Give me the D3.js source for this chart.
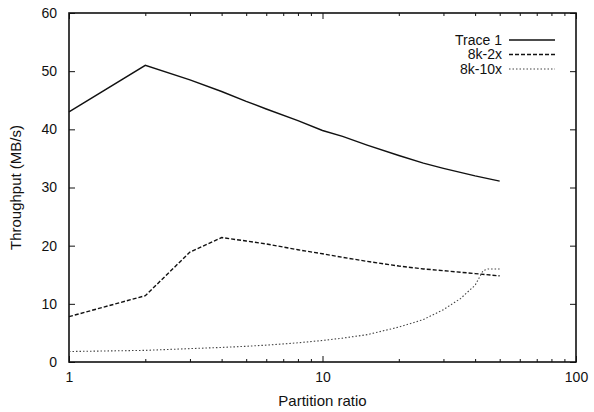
<!DOCTYPE html>
<html>
<head>
<meta charset="utf-8">
<script src="https://cdn.jsdelivr.net/npm/d3@7"></script>
<style>
  body { margin: 0; background: #fff; }
  svg text { font-family: "Liberation Sans", Arial, sans-serif; fill: #111; }
</style>
</head>
<body>
<div id="chart"></div>
<script>
// partition ratios where each trace was measured
var ratios = [1, 2, 3, 4, 5, 6, 8, 10, 12, 15, 20, 25, 30, 40, 50];
var trace1 = [43, 51, 48.5, 46.5, 44.8, 43.5, 41.5, 39.8, 38.8, 37.3, 35.5, 34.2, 33.3, 32, 31.1];
var k2x = [7.8, 11.4, 18.9, 21.4, 20.8, 20.3, 19.3, 18.6, 18, 17.3, 16.5, 16, 15.7, 15.2, 14.8];

var ratios10 = [1, 2, 3, 4, 5, 6, 8, 10, 12, 15, 20, 25, 30, 35, 40, 43, 45, 50];
var k10x = [1.8, 2.0, 2.3, 2.5, 2.7, 2.9, 3.3, 3.7, 4.1, 4.7, 6.0, 7.3, 9.0, 10.9, 13.2, 15.7, 16, 16];

var seriesNames = ["Trace 1", "8k-2x", "8k-10x"];
var yTicks = [0, 10, 20, 30, 40, 50, 60];
var xTicks = [1, 10, 100];

var W = 594, H = 412;
var margin = {top: 13, right: 18, bottom: 50, left: 69},
    width = W - margin.left - margin.right,
    height = H - margin.top - margin.bottom;

var svg = d3.select("#chart")
    .append("svg")
        .attr("width", W)
        .attr("height", H)
    .append("g")
        .attr("transform", "translate(" + margin.left + "," + margin.top + ")");

var x = d3.scaleLog().domain([1, 100]).range([0, width]);
var y = d3.scaleLinear().domain([0, 60]).range([height, 0]);

// minor log ticks
var minor = [];
for (var d = 1; d < 100; d *= 10) {
    for (var k = 2; k < 10; k++) minor.push(d * k);
}

function styleAxis(g) {
    g.select(".domain").remove();
    g.selectAll("line").attr("stroke", "#111").attr("stroke-width", 1);
    g.selectAll("text").attr("font-size", "14px").attr("fill", "#111");
}

svg.append("g")
    .attr("transform", "translate(0," + height + ")")
    .call(d3.axisBottom(x).tickValues(xTicks).tickFormat(d3.format("d")).tickSize(-6).tickPadding(10))
    .call(styleAxis);
svg.append("g")
    .attr("transform", "translate(0," + height + ")")
    .call(d3.axisBottom(x).tickValues(minor).tickFormat("").tickSize(-3))
    .call(styleAxis);
svg.append("g")
    .call(d3.axisTop(x).tickValues(xTicks).tickFormat("").tickSize(-6))
    .call(styleAxis);
svg.append("g")
    .call(d3.axisTop(x).tickValues(minor).tickFormat("").tickSize(-3))
    .call(styleAxis);
svg.append("g")
    .call(d3.axisLeft(y).tickValues(yTicks).tickSize(-6).tickPadding(12))
    .call(styleAxis);
svg.append("g")
    .attr("transform", "translate(" + width + ",0)")
    .call(d3.axisRight(y).tickValues(yTicks).tickFormat("").tickSize(-6))
    .call(styleAxis);

svg.append("rect")
    .attr("width", width)
    .attr("height", height)
    .attr("fill", "none")
    .attr("stroke", "#111")
    .attr("stroke-width", 1.6);

var line = d3.line()
    .x(function(d) { return x(d[0]); })
    .y(function(d) { return y(d[1]); });

var dashes = ["none", "4,2", "1.5,2"];
var widths = [1.4, 1.4, 1.1];
var colors = ["#111", "#111", "#444"];
var data = [
    d3.zip(ratios, trace1),
    d3.zip(ratios, k2x),
    d3.zip(ratios10, k10x)
];

data.forEach(function(s, i) {
    svg.append("path")
        .datum(s)
        .attr("fill", "none")
        .attr("stroke", colors[i])
        .attr("stroke-width", widths[i])
        .attr("stroke-dasharray", dashes[i])
        .attr("d", line);
});

// legend
var legend = svg.append("g").attr("transform", "translate(" + (width - 67) + ",27)");
seriesNames.forEach(function(name, i) {
    var row = legend.append("g").attr("transform", "translate(0," + (i * 14.5) + ")");
    row.append("text")
        .attr("x", -7)
        .attr("dy", "0.35em")
        .attr("text-anchor", "end")
        .attr("font-size", "14px")
        .text(name);
    row.append("line")
        .attr("x1", 0).attr("x2", 46)
        .attr("stroke", colors[i])
        .attr("stroke-width", widths[i])
        .attr("stroke-dasharray", dashes[i]);
});

// axis titles
svg.append("text")
    .attr("x", width / 2)
    .attr("y", height + 44)
    .attr("text-anchor", "middle")
    .attr("font-size", "15px")
    .text("Partition ratio");

svg.append("text")
    .attr("transform", "translate(-48," + (height / 2) + ") rotate(-90)")
    .attr("text-anchor", "middle")
    .attr("font-size", "15px")
    .text("Throughput (MB/s)");
</script>
</body>
</html>
